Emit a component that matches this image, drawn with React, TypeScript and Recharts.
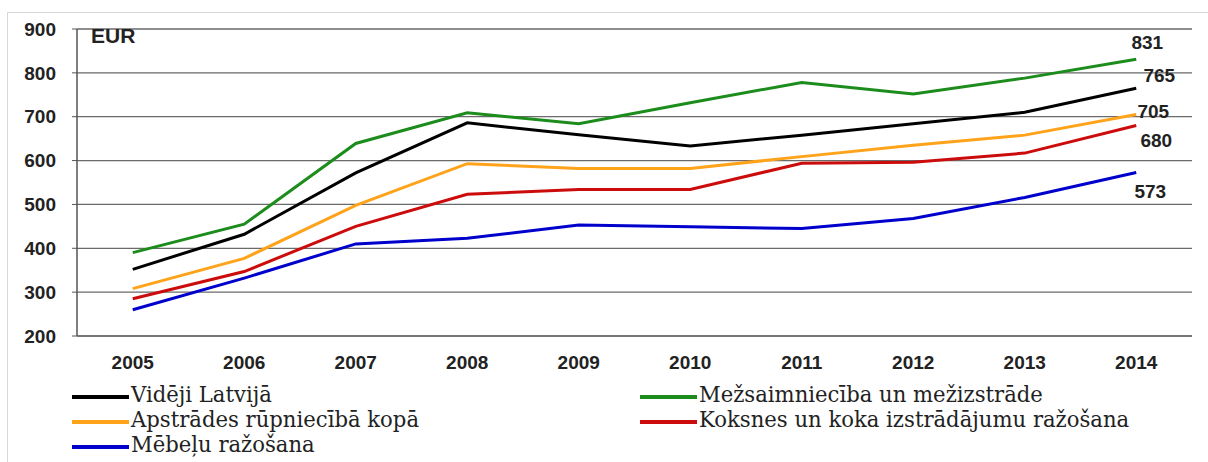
import React from 'react';
import { LineChart, Line, XAxis, YAxis, CartesianGrid, LabelList } from 'recharts';

const years = ['2005', '2006', '2007', '2008', '2009', '2010', '2011', '2012', '2013', '2014'];
const videji = [352, 432, 572, 686, 659, 633, 658, 684, 710, 765];
const mezs = [390, 455, 639, 709, 684, 732, 778, 752, 788, 831];
const apstr = [308, 377, 498, 593, 582, 582, 609, 635, 658, 705];
const koksnes = [285, 347, 450, 523, 534, 534, 594, 596, 617, 680];
const mebelu = [260, 332, 410, 423, 453, 449, 445, 468, 516, 573];
const yTicks = [200, 300, 400, 500, 600, 700, 800, 900];
const edgeTicks = [0, 1, 2, 3, 4, 5, 6, 7, 8, 9, 10];
const centerTicks = [0.5, 1.5, 2.5, 3.5, 4.5, 5.5, 6.5, 7.5, 8.5, 9.5];

const series = [
  { key: 'videji', name: 'Vidēji Latvijā', values: videji, color: '#000000', dx: 23, dy: -13 },
  { key: 'mezs', name: 'Mežsaimniecība un mežizstrāde', values: mezs, color: '#1c8c1c', dx: 11, dy: -17 },
  { key: 'apstr', name: 'Apstrādes rūpniecībā kopā', values: apstr, color: '#ffa31a', dx: 17, dy: -3 },
  { key: 'koksnes', name: 'Koksnes un koka izstrādājumu ražošana', values: koksnes, color: '#cc0c0c', dx: 20, dy: 15 },
  { key: 'mebelu', name: 'Mēbeļu ražošana', values: mebelu, color: '#0000cc', dx: 14, dy: 19 },
];

const data = years.map((y, i) => {
  const row: any = { x: i + 0.5, year: y };
  series.forEach((s) => { row[s.key] = s.values[i]; });
  return row;
});

const boldFont = "'Liberation Sans', Arial, sans-serif";
const serifFont = "'DejaVu Serif', serif";

const makeEndLabel = (dx: number, dy: number) => (props: any) => {
  const { x, y, value, index } = props;
  if (index !== years.length - 1) return null;
  return (
    <text x={x + dx} y={y + dy} textAnchor="middle" dominantBaseline="central"
      fontFamily={boldFont} fontWeight="bold" fontSize={19} fill="#222">
      {value}
    </text>
  );
};

const legendLayout = [
  { s: 0, left: 72, top: 382 },
  { s: 1, left: 640, top: 382 },
  { s: 2, left: 72, top: 407 },
  { s: 3, left: 640, top: 407 },
  { s: 4, left: 72, top: 432 },
];

export default function App() {
  return (
    <div style={{ position: 'absolute', left: 0, top: 0, width: 1208, height: 462, background: '#fff', overflow: 'hidden' }}>
      <div style={{ position: 'absolute', left: 7, top: 12, right: 0, bottom: 0, borderTop: '1px solid #d8d8d8', borderLeft: '1px solid #d8d8d8' }} />
      <div style={{ position: 'absolute', left: 0, top: 0 }}>
        <LineChart width={1208} height={462} data={data} margin={{ top: 29, right: 16, left: 0, bottom: 86 }}>
          <CartesianGrid vertical={false} stroke="#6a6a6a" strokeWidth={1.3} yAxisId="left" xAxisId="main" />
          <XAxis xAxisId="edges" type="number" dataKey="x" domain={[0, 10]} ticks={edgeTicks}
            height={0} tick={false} axisLine={false} tickLine={{ stroke: '#555' }} tickSize={5} />
          <XAxis xAxisId="main" type="number" dataKey="x" domain={[0, 10]} ticks={centerTicks}
            height={40} tickLine={false} axisLine={{ stroke: '#777', strokeWidth: 2 }}
            tickFormatter={(v: number) => years[Math.floor(v)]}
            tick={{ fontFamily: boldFont, fontWeight: 'bold', fontSize: 19, fill: '#222' }} tickMargin={14} />
          <YAxis yAxisId="left" domain={[200, 900]} ticks={yTicks} width={77}
            axisLine={{ stroke: '#555', strokeWidth: 1.5 }} tickLine={{ stroke: '#555' }} tickSize={5} tickMargin={16}
            tick={{ fontFamily: boldFont, fontWeight: 'bold', fontSize: 19, fill: '#222' }} />
          <YAxis yAxisId="right" orientation="right" domain={[200, 900]} width={0}
            tick={false} tickLine={false} axisLine={{ stroke: '#999', strokeWidth: 2 }} />
          {series.map((s) => (
            <Line key={s.key} xAxisId="main" yAxisId="left" dataKey={s.key} name={s.name}
              stroke={s.color} strokeWidth={3} dot={false} isAnimationActive={false} type="linear">
              <LabelList dataKey={s.key} content={makeEndLabel(s.dx, s.dy)} />
            </Line>
          ))}
          <text x={91} y={35} dominantBaseline="central" fontFamily={boldFont} fontWeight="bold" fontSize={21} fill="#222">EUR</text>
        </LineChart>
      </div>
      {legendLayout.map((l) => {
        const s = series[l.s];
        return (
          <div key={s.key} style={{ position: 'absolute', left: l.left, top: l.top, height: 25, display: 'flex', alignItems: 'flex-start' }}>
            <div style={{ width: 57, height: 4, background: s.color, marginTop: 13, marginRight: 2, flex: 'none' }} />
            <span style={{ display: 'inline-block', fontFamily: serifFont, fontSize: 23, lineHeight: '25px', color: '#222', whiteSpace: 'nowrap', transform: 'scaleX(0.92)', transformOrigin: 'left center' }}>
              {s.name}
            </span>
          </div>
        );
      })}
    </div>
  );
}
